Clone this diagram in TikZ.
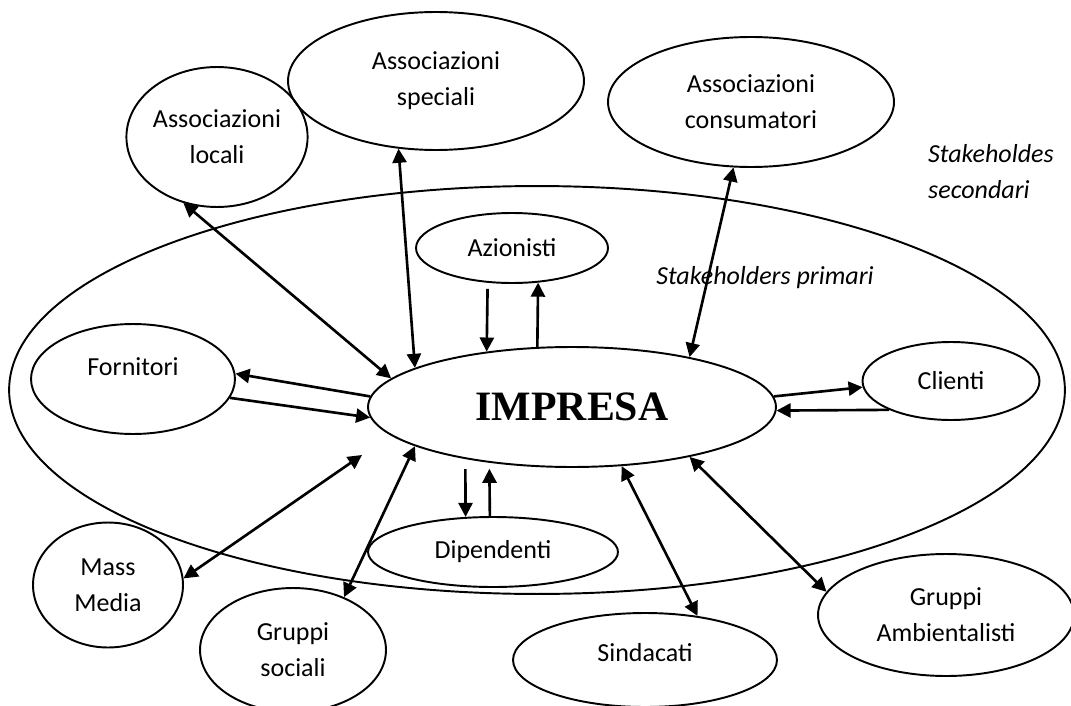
\documentclass[tikz,border=0pt]{standalone}
\usepackage{fontspec}
\setmainfont{Carlito}
\newfontfamily\impfont{Liberation Serif}
\usetikzlibrary{shapes.geometric,arrows.meta,calc}

\begin{document}
\begin{tikzpicture}[x=0.02cm,y=-0.02cm,
    stake/.style={draw,ellipse,line width=1.1pt,inner sep=0pt,align=center,
        font={\fontsize{14.8}{20.5}\selectfont}},
    link/.style={line width=1.5pt},
    >={Triangle[length=8pt,width=8pt]}]
\useasboundingbox (0,0) rectangle (1071,706);
% the two rings of stakeholders
\node[stake,minimum width=21.12cm,minimum height=8.16cm] (outer) at (537,390) {};
\node[stake,minimum width=8.16cm,minimum height=2.4cm,font={\impfont\fontsize{23.8}{26}\selectfont\bfseries}] (impresa) at (572,407) {IMPRESA};
\node[font={\fontsize{14.8}{20.5}\selectfont\itshape}] (primari) at (765,278) {Stakeholders primari};
\node[font={\fontsize{14.8}{20.5}\selectfont\itshape},align=left,anchor=west] (secondari) at (922,172) {Stakeholdes\\secondari};
% primari
\node[stake,minimum width=3.84cm,minimum height=1.4cm] (azionisti) at (512,248) {Azionisti};
\node[stake,minimum width=4.08cm,minimum height=2.2cm,text height=10pt,text depth=13.6pt] (fornitori) at (133,379) {Fornitori};
\node[stake,minimum width=3.54cm,minimum height=1.56cm] (clienti) at (951,381) {Clienti};
\node[stake,minimum width=5cm,minimum height=1.4cm] (dipendenti) at (493,552) {Dipendenti};
% secondari
\node[stake,minimum width=3.2cm,minimum height=2.8cm] (locali) at (217,137) {Associazioni\\locali};
\node[stake,minimum width=5.92cm,minimum height=2.76cm] (speciali) at (436,81) {Associazioni\\speciali};
\node[stake,minimum width=5.72cm,minimum height=2.6cm] (consumatori) at (751,102) {Associazioni\\consumatori};
\node[stake,minimum width=3cm,minimum height=2.5cm] (massmedia) at (108,585) {Mass\\Media};
\node[stake,minimum width=3.72cm,minimum height=2.48cm] (sociali) at (293,650) {Gruppi\\sociali};
\node[stake,minimum width=5.28cm,minimum height=1.88cm,text height=10pt,text depth=8pt] (sindacati) at (645,660) {Sindacati};
\node[stake,minimum width=5.12cm,minimum height=2.44cm] (ambientalisti) at (946,615) {Gruppi\\Ambientalisti};
\coordinate (mmend) at (362,455);

% connectors
\draw[link,<->] (locali.243) -- (impresa.171);
\draw[link,<->] (speciali.241) -- (impresa.166);
\draw[link,<->] (consumatori.255) -- (impresa.23);
\draw[link,->,shorten <=0.12cm] (azionisti.235) -- (impresa.147);
\draw[link,->] (impresa.120) -- (azionisti.307);
\draw[link,->] (impresa.177) -- (fornitori.3);
\draw[link,->] (fornitori.349) -- (impresa.183);
\draw[link,->] (impresa.3) -- (clienti.184);
\draw[link,->] (clienti.205) -- (impresa.359);
\draw[link,<->] (massmedia.5) -- (mmend);
\draw[link,<->] (sociali.46) -- (impresa.194);
\draw[link,->,shorten <=0.2cm] (impresa.206) -- (dipendenti.128);
\draw[link,->,shorten >=0.12cm] (dipendenti.95) -- (impresa.214);
\draw[link,<->] (impresa.310) -- (sindacati.40);
\draw[link,<->] (impresa.337) -- (ambientalisti.169);
\end{tikzpicture}
\end{document}
